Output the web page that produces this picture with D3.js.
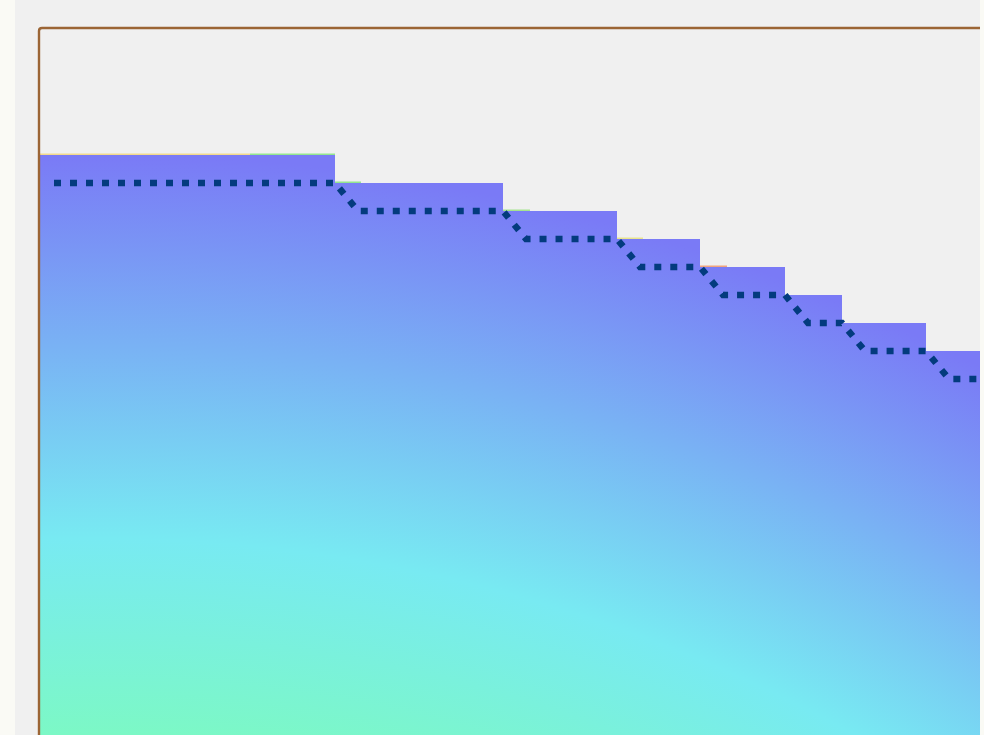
<!DOCTYPE html>
<html>
<head>
<meta charset="utf-8">
<script src="https://cdn.jsdelivr.net/npm/d3@7"></script>
<style>
  html, body { margin: 0; padding: 0; background: #fafaf5; overflow: hidden; }
  #chart { width: 984px; height: 735px; }
</style>
</head>
<body>
<div id="chart"></div>
<script>

// step edges (x units) and level of each step
const stepEdges  = [0, 29.5, 46.3, 57.7, 66.0, 74.5, 80.2, 88.6, 94];
const stepLevels = [25, 24, 23, 22, 21, 20, 19, 18];

// dotted guide line
const guideX     = [1.4, 29.5, 31.8, 46.3, 48.6, 57.7, 60.0, 66.0, 68.3, 74.5, 76.8, 80.2, 82.5, 88.6, 90.9, 94];
const guideLevel = [24,  24,   23,   23,   22,   22,   21,   21,   20,   20,   19,   19,   18,   18,   17,   17];

// thin coloured edges peeking over the step tops
const edgeFrom  = [0,    21,   29.5, 46.3, 57.7, 66.0];
const edgeTo    = [21,   29.5, 32.1, 49.0, 60.3, 68.7];
const edgeLevel = [25,   25,   24,   23,   22,   21];
const edgeColor = ['#f2d98c', '#93e68f', '#93e68f', '#a6e48f', '#e9e48e', '#f0a57e'];

const W = 984, H = 735;
let margin = {'top': 28, 'left': 40, 'right': 4};

let svg = d3.select('#chart').append('svg')
    .attr('width', W)
    .attr('height', H);

// panel background
svg.append('rect')
    .attr('x', 15).attr('y', 0)
    .attr('width', W - 15 - margin.right).attr('height', H)
    .attr('fill', '#f0f0f0');

let x = d3.scaleLinear().domain([0, 94]).range([margin.left, W - margin.right]);
let y = d3.scaleLinear().domain([0, 25]).range([855, 155]);

// gradient fill - big radial one centred well below the view
let defs = svg.append('defs');
let grad = defs.append('radialGradient')
    .attr('id', 'areaGrad')
    .attr('gradientUnits', 'userSpaceOnUse')
    .attr('cx', 95).attr('cy', 2105).attr('r', 1951);
grad.append('stop').attr('offset', 0).attr('stop-color', '#7cf8c6');
grad.append('stop').attr('offset', 0.703).attr('stop-color', '#7cf8c6');
grad.append('stop').attr('offset', 0.803).attr('stop-color', '#78eaf2');
grad.append('stop').attr('offset', 1).attr('stop-color', '#7a7af6');

defs.append('clipPath').attr('id', 'plotClip')
  .append('rect')
    .attr('x', margin.left).attr('y', margin.top)
    .attr('width', W - margin.right - margin.left).attr('height', H);

let plot = svg.append('g').attr('clip-path', 'url(#plotClip)');

// step area
let stepData = stepLevels.map((v, i) => ({x: stepEdges[i], v: v}));
stepData.push({x: stepEdges[stepEdges.length - 1], v: stepLevels[stepLevels.length - 1]});

let area = d3.area()
    .x(d => x(d.x))
    .y0(y(0))
    .y1(d => y(d.v))
    .curve(d3.curveStepAfter);

// coloured edges go first so the area covers their lower half
plot.selectAll('line.edge')
    .data(edgeFrom.map((d, i) => ({a: d, b: edgeTo[i], v: edgeLevel[i], c: edgeColor[i]})))
  .enter().append('line')
    .attr('class', 'edge')
    .attr('x1', d => x(d.a)).attr('x2', d => x(d.b))
    .attr('y1', d => y(d.v) - 0.5).attr('y2', d => y(d.v) - 0.5)
    .attr('stroke', d => d.c)
    .attr('stroke-width', 2);

plot.append('path')
    .datum(stepData)
    .attr('d', area)
    .attr('fill', 'url(#areaGrad)');

// dotted line
let line = d3.line()
    .x(d => x(d[0]))
    .y(d => y(d[1]));

plot.append('path')
    .datum(guideX.map((d, i) => [d, guideLevel[i]]))
    .attr('d', line)
    .attr('fill', 'none')
    .attr('stroke', '#033b7e')
    .attr('stroke-width', 6.5)
    .attr('stroke-dasharray', '7 9');

// frame: left + top with a small rounded corner
let r = 3;
let bx = margin.left - 1, by = margin.top;
svg.append('path')
    .attr('d', `M${bx},${H + 2} L${bx},${by + r} Q${bx},${by} ${bx + r},${by} L${W - margin.right},${by}`)
    .attr('fill', 'none')
    .attr('stroke', '#9b6535')
    .attr('stroke-width', 2.4);

</script>
</body>
</html>
